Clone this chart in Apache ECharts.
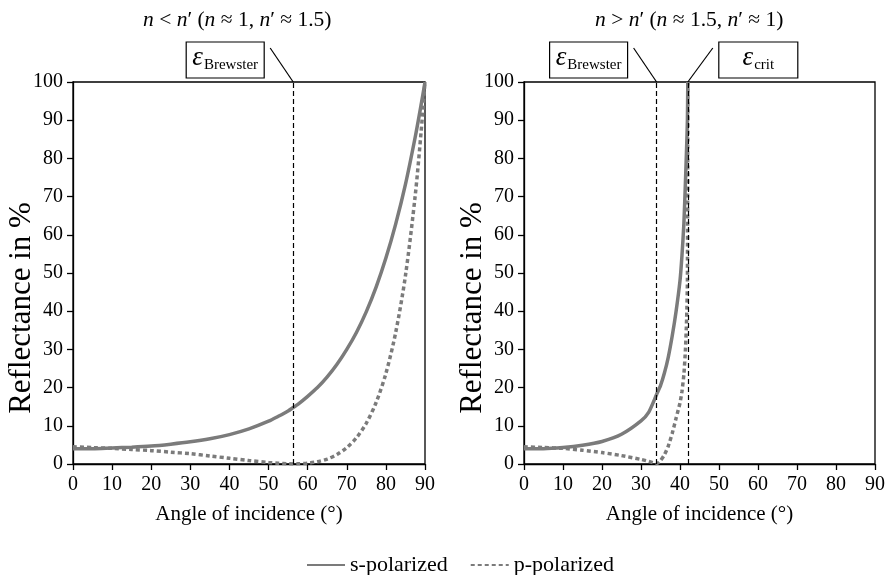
<!DOCTYPE html>
<html>
<head>
<meta charset="utf-8">
<script src="https://cdn.jsdelivr.net/npm/echarts@6/dist/echarts.min.js"></script>
<style>html,body{margin:0;padding:0;background:#fff;}#c{width:890px;height:575px;}</style>
</head>
<body>
<div id="c"></div>
<script>
// ---- data ----
const xTicks = [0, 10, 20, 30, 40, 50, 60, 70, 80, 90];
const yTicks = [0, 10, 20, 30, 40, 50, 60, 70, 80, 90, 100];
const leftTitle = '{i|n} < {i|n}′ ({i|n} ≈ 1, {i|n}′ ≈ 1.5)';
const rightTitle = '{i|n} > {i|n}′ ({i|n} ≈ 1.5, {i|n}′ ≈ 1)';
const seriesNames = ['s-polarized', 'p-polarized'];

// left panel: n < n'
const leftAngles = [0, 5, 10, 15, 20, 25, 30, 35, 40, 45, 50, 52.5, 55, 56.3, 57.5, 60, 62.5, 65, 67.5, 70, 72.5, 75, 77.5, 80, 82.5, 85, 87.5, 89, 90];
const leftS = [4.0, 4.0, 4.2, 4.4, 4.7, 5.2, 5.8, 6.6, 7.7, 9.2, 11.2, 12.5, 13.9, 14.8, 15.6, 17.7, 20.0, 22.8, 26.1, 30.0, 34.5, 39.9, 46.3, 53.9, 62.8, 73.2, 85.6, 94.0, 100];
const leftP = [4.5, 4.3, 4.1, 3.8, 3.5, 3.1, 2.7, 2.1, 1.5, 0.9, 0.4, 0.2, 0.05, 0, 0.05, 0.2, 0.6, 1.3, 2.5, 4.3, 6.9, 10.7, 16.1, 23.7, 34.4, 49.3, 70.3, 86.9, 100];
const leftBrewster = 56.3;

// right panel: n > n'
const rightAngles = [0, 5, 10, 15, 20, 25, 30, 32, 34, 35, 36, 37, 38, 39, 40, 40.5, 41, 41.4, 41.7, 41.9, 42];
const rightS = [4.0, 4.0, 4.3, 4.9, 5.9, 7.8, 11.3, 13.6, 18.2, 20.5, 23.8, 28.0, 33.5, 40.0, 48.0, 54.5, 63.0, 74.0, 83.0, 90.0, 100];
const rightP = [4.5, 4.3, 4.1, 3.6, 3.0, 2.2, 1.2, 0.7, 0.1, 0.9, 2.4, 4.7, 8.0, 12.0, 16.0, 19.0, 23.5, 30.0, 38.0, 48.0, 100];
const rightBrewster = 34.0;
const rightCrit = 42.0;

// ---- chart ----
const FONT = 'Liberation Serif';
const GRAY = '#7b7b7b';
const pairs = (xs, ys) => xs.map((x, i) => [x, ys[i]]);

function xAxisCfg(gi) {
  return {
    type: 'value', gridIndex: gi, min: 0, max: 90, interval: 10,
    name: 'Angle of incidence (°)', nameLocation: 'middle', nameGap: 40,
    nameTextStyle: { fontFamily: FONT, fontSize: 21, color: '#000' },
    axisLine: { lineStyle: { color: '#000', width: 1.3 } },
    axisTick: { show: true, inside: false, length: 6, lineStyle: { color: '#000', width: 1.3 } },
    axisLabel: { fontFamily: FONT, fontSize: 20, color: '#000', margin: 11,
      formatter: v => xTicks.indexOf(v) >= 0 ? String(v) : '' },
    splitLine: { show: false }
  };
}
function yAxisCfg(gi) {
  return {
    type: 'value', gridIndex: gi, min: 0, max: 100, interval: 10,
    name: 'Reflectance in %', nameLocation: 'middle', nameGap: 36, nameMoveOverlap: false,
    nameTextStyle: { fontFamily: FONT, fontSize: 31, color: '#000', padding: [0, 70, 0, 0] },
    axisLine: { show: true, lineStyle: { color: '#000', width: 1.3 } },
    axisTick: { show: true, inside: false, length: 6, lineStyle: { color: '#000', width: 1.3 } },
    axisLabel: { fontFamily: FONT, fontSize: 20, color: '#000', margin: 10,
      formatter: v => yTicks.indexOf(v) >= 0 ? String(v) : '' },
    splitLine: { show: false }
  };
}
function vline(x) {
  return { xAxis: x };
}
const mlStyle = { color: '#000', width: 1.2, type: [5, 3] };
const titleStyle = { fontFamily: FONT, fontSize: 21.5, fontWeight: 'normal', color: '#000',
  rich: { i: { fontFamily: FONT, fontSize: 21.5, fontStyle: 'italic', color: '#000' } } };

const chart = echarts.init(document.getElementById('c'), null, { renderer: 'canvas' });
const option = {
  animation: false,
  backgroundColor: '#fff',
  title: [
    { text: leftTitle, left: 143, top: 9, padding: 0, textStyle: titleStyle },
    { text: rightTitle, left: 595, top: 9, padding: 0, textStyle: titleStyle }
  ],
  grid: [
    { left: 73, top: 82, width: 352, height: 382, show: true, borderColor: '#000', borderWidth: 1.3,
      backgroundColor: 'transparent', containLabel: false, outerBoundsMode: 'none' },
    { left: 524, top: 82, width: 351, height: 382, show: true, borderColor: '#000', borderWidth: 1.3,
      backgroundColor: 'transparent', containLabel: false, outerBoundsMode: 'none' }
  ],
  xAxis: [xAxisCfg(0), xAxisCfg(1)],
  yAxis: [yAxisCfg(0), yAxisCfg(1)],
  legend: {
    data: seriesNames, left: 301, top: 549, itemWidth: 38, itemHeight: 14, itemGap: 22,
    itemStyle: { color: 'rgba(0,0,0,0)', borderColor: 'rgba(0,0,0,0)', borderWidth: 0 },
    textStyle: { fontFamily: FONT, fontSize: 22, color: '#000' }
  },
  series: [
    { name: seriesNames[0], type: 'line', xAxisIndex: 0, yAxisIndex: 0, data: pairs(leftAngles, leftS),
      showSymbol: false, symbol: 'none', smooth: 0.3, lineStyle: { color: GRAY, width: 3.5 }, itemStyle: { color: GRAY }, z: 2 },
    { name: seriesNames[1], type: 'line', xAxisIndex: 0, yAxisIndex: 0, data: pairs(leftAngles, leftP),
      showSymbol: false, symbol: 'none', smooth: 0.3, lineStyle: { color: GRAY, width: 3.5, type: [4, 3], cap: 'butt' }, itemStyle: { color: GRAY }, z: 2 },
    { name: seriesNames[0], type: 'line', xAxisIndex: 1, yAxisIndex: 1, data: pairs(rightAngles, rightS),
      showSymbol: false, symbol: 'none', smooth: 0.2, lineStyle: { color: GRAY, width: 3.5 }, itemStyle: { color: GRAY }, z: 2 },
    { name: seriesNames[1], type: 'line', xAxisIndex: 1, yAxisIndex: 1, data: pairs(rightAngles, rightP),
      showSymbol: false, symbol: 'none', smooth: 0.2, lineStyle: { color: GRAY, width: 3.5, type: [4, 3], cap: 'butt' }, itemStyle: { color: GRAY }, z: 2 },
    { name: 'refL', type: 'line', xAxisIndex: 0, yAxisIndex: 0, data: [], z: 5,
      markLine: { silent: true, symbol: 'none', label: { show: false }, lineStyle: mlStyle, data: [vline(leftBrewster)] } },
    { name: 'refR', type: 'line', xAxisIndex: 1, yAxisIndex: 1, data: [], z: 5,
      markLine: { silent: true, symbol: 'none', label: { show: false }, lineStyle: mlStyle, data: [vline(rightBrewster), vline(rightCrit)] } }
  ]
};
chart.setOption(option);

// annotation boxes with leader lines, anchored to the data positions
function annot(gi, xVal, side, sub) {
  const p = chart.convertToPixel({ gridIndex: gi }, [xVal, 100]);
  const dx = side < 0 ? -23 : 25;
  const w = side < 0 ? 78 : 79, h = 36;
  const bx = side < 0 ? p[0] - 29 - w : p[0] + 31;
  const by = p[1] - 40;
  return [
    { type: 'line', shape: { x1: p[0], y1: p[1], x2: p[0] + dx, y2: p[1] - 34 }, style: { stroke: '#000', lineWidth: 1.2 }, z: 10 },
    { type: 'rect', shape: { x: bx, y: by, width: w, height: h }, style: { fill: '#fff', stroke: '#000', lineWidth: 1.2 }, z: 10 },
    { type: 'text', x: bx + w / 2, y: by + h / 2, z: 11,
      style: { text: '{e|ε}{s|' + sub + '}', align: 'center', verticalAlign: 'middle',
        rich: {
          e: { fontFamily: FONT, fontSize: 27, fontStyle: 'italic', fill: '#000', padding: [0, 1, 4, 0] },
          s: { fontFamily: FONT, fontSize: 15, fill: '#000', padding: [10, 0, 0, 0] }
        } } }
  ];
}
chart.setOption({
  graphic: [].concat(
    annot(0, leftBrewster, -1, 'Brewster'),
    annot(1, rightBrewster, -1, 'Brewster'),
    annot(1, rightCrit, 1, 'crit')
  )
});
</script>
</body>
</html>
